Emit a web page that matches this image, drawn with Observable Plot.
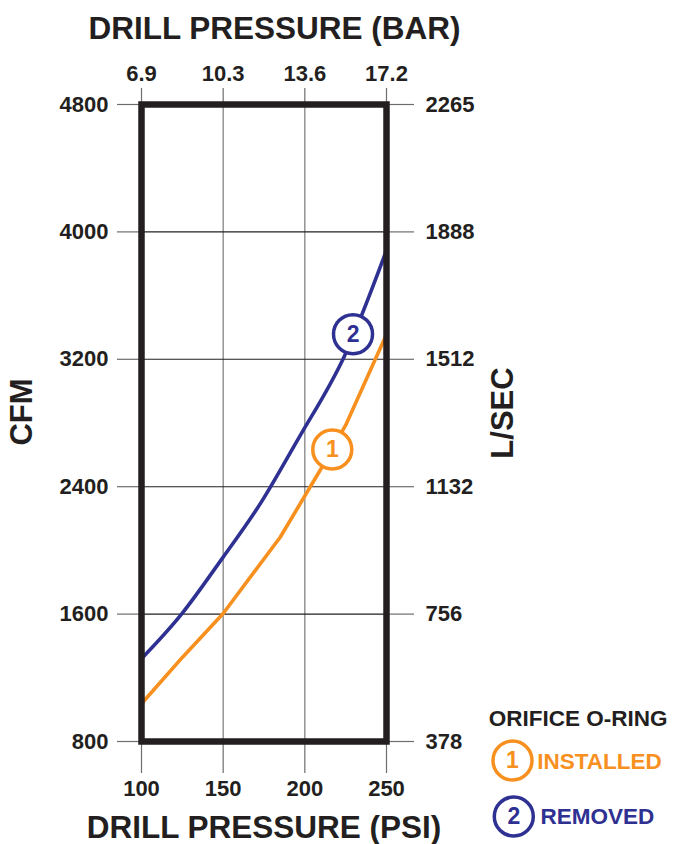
<!DOCTYPE html>
<html>
<head>
<meta charset="utf-8">
<script src="https://cdn.jsdelivr.net/npm/d3@7"></script>
<script src="https://cdn.jsdelivr.net/npm/@observablehq/plot@0.6"></script>
<style>
  html, body { margin: 0; padding: 0; background: #fff; }
  #chart svg { display: block; }
</style>
</head>
<body>
<div id="chart"></div>
<script>
// ---- data ----
const psiTicks = [100, 150, 200, 250];
const barLabels = ["6.9", "10.3", "13.6", "17.2"];
const cfmTicks = [800, 1600, 2400, 3200, 4000, 4800];
const lsecLabels = ["378", "756", "1132", "1512", "1888", "2265"];

const installedPsi = [100, 125, 150, 185, 210, 225, 247, 250];
const installedCfm = [1037, 1328, 1604, 2084, 2514, 2786, 3288, 3355];

const removedPsi = [100, 125, 150, 174, 199, 224, 250];
const removedCfm = [1320, 1606, 1958, 2314, 2754, 3215, 3885];

const seriesNames = ["INSTALLED", "REMOVED"];
const seriesNumbers = ["1", "2"];
const seriesColors = ["#f7901e", "#2e3192"];
const labelPsi = [216.8, 229.5];
const labelCfm = [2634, 3358];

// ---- build tables ----
const installed = installedPsi.map((p, i) => ({psi: p, cfm: installedCfm[i]}));
const removed = removedPsi.map((p, i) => ({psi: p, cfm: removedCfm[i]}));
const labels = seriesNumbers.map((n, i) => ({n, psi: labelPsi[i], cfm: labelCfm[i], color: seriesColors[i]}));

const ink = "#231f20";
const tickGray = "#6d6d6d";
const font = "'Liberation Sans', Arial, Helvetica, sans-serif";
const axisStyle = {fontSize: 22, fontWeight: "bold", stroke: tickGray, strokeWidth: 1.2, fill: ink, label: null};

const chart = Plot.plot({
  width: 674,
  height: 844,
  marginLeft: 141,
  marginRight: 288,
  marginTop: 104,
  marginBottom: 103,
  style: {fontFamily: font, fontWeight: "bold", background: "#fff", color: ink, overflow: "visible"},
  x: {domain: [100, 250], axis: null},
  y: {domain: [800, 4800], axis: null},
  marks: [
    Plot.gridX(psiTicks, {stroke: "#7a7a7a", strokeOpacity: 1, strokeWidth: 1.2}),
    Plot.gridY(cfmTicks, {stroke: ink, strokeOpacity: 1, strokeWidth: 1.1}),
    Plot.axisX(psiTicks, {...axisStyle, anchor: "bottom", tickSize: 32, tickPadding: 7, tickFormat: d => String(d)}),
    Plot.axisX(psiTicks, {...axisStyle, anchor: "top", tickSize: 17, tickPadding: 7, tickFormat: d => barLabels[psiTicks.indexOf(d)]}),
    Plot.axisY(cfmTicks, {...axisStyle, anchor: "left", tickSize: 24, tickPadding: 9, tickFormat: d => String(d)}),
    Plot.axisY(cfmTicks, {...axisStyle, anchor: "right", tickSize: 27, tickPadding: 12, tickFormat: d => lsecLabels[cfmTicks.indexOf(d)]}),
    Plot.line(installed, {x: "psi", y: "cfm", stroke: seriesColors[0], strokeWidth: 3.6, curve: "linear", clip: true}),
    Plot.line(removed, {x: "psi", y: "cfm", stroke: seriesColors[1], strokeWidth: 3.6, curve: "natural", clip: true}),
    Plot.frame({stroke: ink, strokeWidth: 6.5}),
    Plot.dot(labels, {x: "psi", y: "cfm", r: 19.5, fill: "#fff", stroke: "color", strokeWidth: 3.5}),
    Plot.text(labels, {x: "psi", y: "cfm", text: "n", fill: "color", fontSize: 23, fontWeight: "bold", lineAnchor: "middle"}),
    // titles
    Plot.text(["DRILL PRESSURE (BAR)"], {frameAnchor: "top", text: d => d, lineAnchor: "bottom", dx: 10.5, dy: -65.7, fontSize: 31.5, fontWeight: "bold", fill: ink}),
    Plot.text(["DRILL PRESSURE (PSI)"], {frameAnchor: "bottom", text: d => d, lineAnchor: "bottom", dx: 0, dy: 96, fontSize: 31.5, fontWeight: "bold", fill: ink}),
    Plot.text(["CFM"], {frameAnchor: "left", text: d => d, rotate: -90, textAnchor: "middle", lineAnchor: "middle", dx: -119, dy: -11, fontSize: 31, fontWeight: "bold", fill: ink}),
    Plot.text(["L/SEC"], {frameAnchor: "right", text: d => d, rotate: -90, textAnchor: "middle", lineAnchor: "middle", dx: 117, dy: -10, fontSize: 31, fontWeight: "bold", fill: ink}),
    // legend
    Plot.text(["ORIFICE O-RING"], {frameAnchor: "bottom-right", text: d => d, textAnchor: "start", lineAnchor: "bottom", dx: 102.3, dy: -16, fontSize: 22.5, fontWeight: "bold", fill: ink}),
    Plot.dot([0], {frameAnchor: "bottom-right", dx: 126, dy: 19, r: 19.5, fill: "#fff", stroke: seriesColors[0], strokeWidth: 3.5}),
    Plot.text([seriesNumbers[0]], {frameAnchor: "bottom-right", text: d => d, textAnchor: "middle", dx: 126, dy: 19, lineAnchor: "middle", fontSize: 23, fontWeight: "bold", fill: seriesColors[0]}),
    Plot.text([seriesNames[0]], {frameAnchor: "bottom-right", text: d => d, textAnchor: "start", lineAnchor: "bottom", dx: 150.7, dy: 27, fontSize: 22.5, fontWeight: "bold", fill: seriesColors[0]}),
    Plot.dot([0], {frameAnchor: "bottom-right", dx: 127.3, dy: 75, r: 19.5, fill: "#fff", stroke: seriesColors[1], strokeWidth: 3.5}),
    Plot.text([seriesNumbers[1]], {frameAnchor: "bottom-right", text: d => d, textAnchor: "middle", dx: 127.3, dy: 75, lineAnchor: "middle", fontSize: 23, fontWeight: "bold", fill: seriesColors[1]}),
    Plot.text([seriesNames[1]], {frameAnchor: "bottom-right", text: d => d, textAnchor: "start", lineAnchor: "bottom", dx: 154, dy: 82, fontSize: 22.5, fontWeight: "bold", fill: seriesColors[1]})
  ]
});
document.getElementById("chart").appendChild(chart);
</script>
</body>
</html>
